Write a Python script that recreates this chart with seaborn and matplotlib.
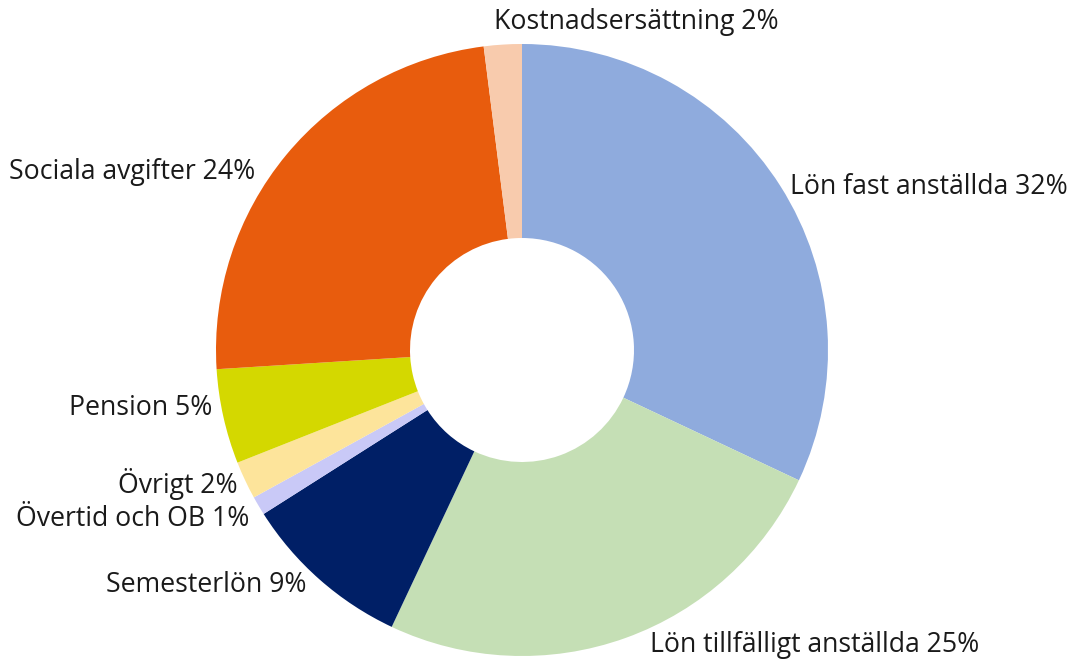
import matplotlib
matplotlib.use("Agg")
import matplotlib.pyplot as plt
import seaborn as sns

kategorier = [
    "Lön fast anställda",
    "Lön tillfälligt anställda",
    "Semesterlön",
    "Övertid och OB",
    "Övrigt",
    "Pension",
    "Sociala avgifter",
    "Kostnadsersättning",
]
andelar = [32, 25, 9, 1, 2, 5, 24, 2]
farger = ["#8FABDD", "#C5DFB5", "#001F66", "#C9C9F7",
          "#FDE49B", "#D4D800", "#E85C0D", "#F8CBAD"]

# etikettpositioner i pixlar (x, y, justering)
etikett_pos = [
    (790, 187, "left"),
    (650, 645, "left"),
    (307, 585, "right"),
    (249, 519, "right"),
    (238, 484, "right"),
    (212, 408, "right"),
    (255, 172, "right"),
    (636, 22, "center"),
]

sns.set_style("white")
plt.rcParams["font.family"] = ["Open Sans", "DejaVu Sans"]

W, H = 1073, 662
cx, cy, R = 522, 350, 306

fig = plt.figure(figsize=(W / 100, H / 100), dpi=100)
ax = fig.add_axes([0, 0, 1, 1])
ax.pie(andelar, colors=farger, startangle=90, counterclock=False,
       radius=1.0, wedgeprops=dict(width=1 - 112 / R, linewidth=0))
ax.set_xlim((0 - cx) / R, (W - cx) / R)
ax.set_ylim((cy - H) / R, cy / R)
ax.set_aspect("auto")
ax.axis("off")

for namn, v, (px, py, ha) in zip(kategorier, andelar, etikett_pos):
    ax.text((px - cx) / R, (cy - py) / R, f"{namn} {v}%", ha=ha, va="center",
            fontsize=19.2, color="#1a1a1a")

fig.savefig("out.png", dpi=100)
